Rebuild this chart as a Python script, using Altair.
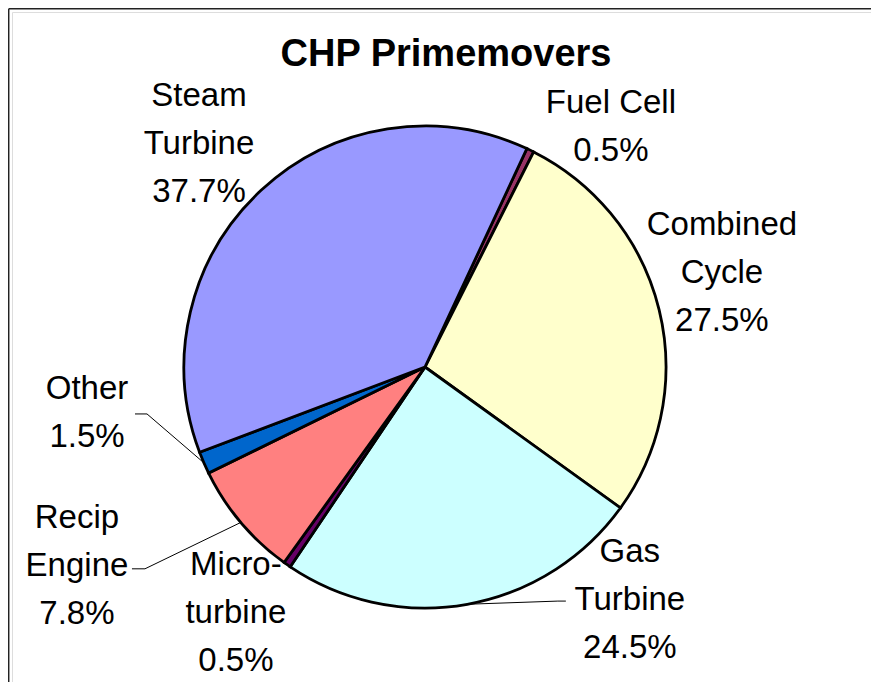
import math
import altair as alt
import pandas as pd

# ---------------- data ----------------
categories = ["Fuel Cell", "Combined Cycle", "Gas Turbine", "Microturbine",
              "Recip Engine", "Other", "Steam Turbine"]
label_lines = [["Fuel Cell"], ["Combined", "Cycle"], ["Gas", "Turbine"],
               ["Micro-", "turbine"], ["Recip", "Engine"], ["Other"],
               ["Steam", "Turbine"]]
shares = [0.5, 27.5, 24.5, 0.5, 7.8, 1.5, 37.7]
colors = ["#993366", "#FFFFCC", "#CCFFFF", "#660066", "#FF8080", "#0066CC", "#9999FF"]
title_text = "CHP Primemovers"

# ---------------- layout / style ----------------
W, H = 859, 670
CX, CY = 413, 355          # pie centre inside the plot area
R = 241                    # pie radius
START_DEG = 25.0           # first slice starts 25 deg clockwise from 12 o'clock
FONT = "Liberation Sans"
LABEL_SIZE = 33
LINE_H = 48

# label anchor (first line baseline): angle (deg, clockwise from north), distance from centre
label_polar = {
    "Fuel Cell": (36.2, 314.8),
    "Combined Cycle": (66.0, 325.0),
    "Gas Turbine": (133.6, 282.9),
    "Microturbine": (222.3, 281.0),
    "Recip Engine": (245.2, 383.4),
    "Other": (264.6, 339.5),
    "Steam Turbine": (319.1, 345.2),
}
# leader lines: label-side points as offsets from the label anchor, then to slice edge
leader_stubs = {
    "Other": [(48, 15), (60, 15)],
    "Recip Engine": [(55, 41), (68, 41)],
    "Gas Turbine": [(-64, 39), (-72, 39)],
}

total = sum(shares)
start_rad = math.radians(START_DEG)

df = pd.DataFrame({"category": categories, "share": shares, "idx": list(range(len(categories)))})

# label table
rows = []
leader_rows = []
cum = 0.0
for cat, lines, s in zip(categories, label_lines, shares):
    mid = START_DEG + (cum + s / 2) / total * 360.0
    cum += s
    a, d = label_polar[cat]
    lx = CX + d * math.sin(math.radians(a))
    ly = CY - d * math.cos(math.radians(a))
    rows.append({"text": "\n".join(lines + [f"{s:.1f}%"]), "lx": lx, "ly": ly})
    if cat in leader_stubs:
        pts = [(lx + ox, ly + oy) for ox, oy in leader_stubs[cat]]
        pts.append((CX + R * math.sin(math.radians(mid)), CY - R * math.cos(math.radians(mid))))
        for k, (px, py) in enumerate(pts):
            leader_rows.append({"cat": cat, "k": k, "px": px, "py": py})

labels_df = pd.DataFrame(rows)
leaders_df = pd.DataFrame(leader_rows)

pie = alt.Chart(df).mark_arc(radius=R, stroke="black", strokeWidth=2.8).encode(
    theta=alt.Theta("share:Q", stack=True,
                    scale=alt.Scale(domain=[0, total], range=[start_rad, start_rad + 2 * math.pi])),
    order=alt.Order("idx:Q"),
    color=alt.Color("category:N", scale=alt.Scale(domain=categories, range=colors), legend=None),
    x=alt.value(CX),
    y=alt.value(CY),
)

labels = alt.Chart(labels_df).mark_text(
    font=FONT, fontSize=LABEL_SIZE, align="center", baseline="alphabetic",
    lineBreak="\n", lineHeight=LINE_H, color="black",
).encode(
    x=alt.X("lx:Q", scale=None),
    y=alt.Y("ly:Q", scale=None),
    text="text:N",
)

leaders = alt.Chart(leaders_df).mark_line(color="black", strokeWidth=1).encode(
    x=alt.X("px:Q", scale=None),
    y=alt.Y("py:Q", scale=None),
    detail="cat:N",
    order="k:Q",
)

title = alt.Chart(pd.DataFrame({"t": [title_text]})).mark_text(
    font=FONT, fontSize=38, fontWeight="bold", align="center", baseline="alphabetic", color="black",
).encode(text="t:N", x=alt.value(434), y=alt.value(54))

frame_df = pd.DataFrame({"a": [0]})
frame_top = alt.Chart(frame_df).mark_rule(color="#222222", strokeWidth=1.5).encode(
    x=alt.value(-3.3), x2=alt.value(W), y=alt.value(-3.3))
frame_left = alt.Chart(frame_df).mark_rule(color="#222222", strokeWidth=1.5).encode(
    x=alt.value(-3.3), y=alt.value(-3.3), y2=alt.value(H))

chart = alt.layer(frame_top, frame_left, pie, leaders, labels, title).properties(
    width=W, height=H,
    padding={"left": 4, "top": 4, "right": 0, "bottom": 0},
    autosize=alt.AutoSizeParams(type="none"),
).configure_view(stroke=None).configure(background="white")

chart.save("out.html", embed_options={"renderer": "svg", "actions": False})
